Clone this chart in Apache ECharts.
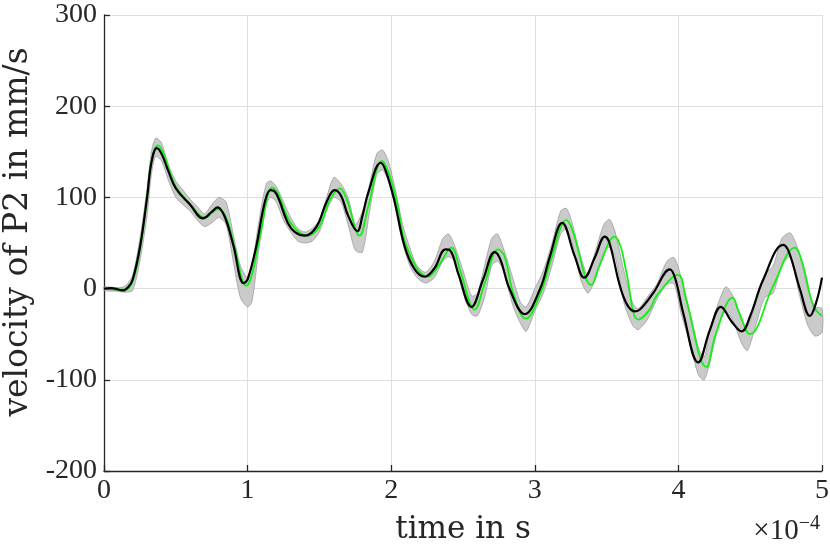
<!DOCTYPE html>
<html>
<head>
<meta charset="utf-8">
<script src="https://cdn.jsdelivr.net/npm/echarts@6/dist/echarts.min.js"></script>
<style>
  html, body { margin: 0; padding: 0; background: #fff; }
  #chart { width: 830px; height: 554px; }
</style>
</head>
<body>
<div id="chart"></div>
<script>
// time in units of 1e-4 s, velocity in mm/s
const xTicks = [0, 1, 2, 3, 4, 5];
const yTicks = [-200, -100, 0, 100, 200, 300];

// model curve (black)
const blackX = [0, 0.05, 0.1, 0.13, 0.17, 0.2, 0.25, 0.3, 0.33, 0.368, 0.4, 0.45, 0.5, 0.6, 0.69, 0.75, 0.79, 0.84, 0.9, 0.972, 1.0, 1.06, 1.12, 1.16, 1.2, 1.28, 1.33, 1.4, 1.48, 1.55, 1.606, 1.65, 1.7, 1.764, 1.8, 1.84, 1.927, 1.96, 2.02, 2.094, 2.164, 2.233, 2.3, 2.378, 2.41, 2.47, 2.559, 2.64, 2.721, 2.76, 2.826, 2.93, 3.035, 3.105, 3.19, 3.279, 3.344, 3.42, 3.488, 3.52, 3.615, 3.697, 3.732, 3.824, 3.941, 3.98, 4.034, 4.138, 4.22, 4.296, 4.37, 4.44, 4.5, 4.591, 4.73, 4.77, 4.847, 4.916, 4.96, 5.0];
const blackY = [0, 0.5, -1, -2, 2, 10, 45, 100, 138, 154, 148, 128, 110, 92, 77, 84, 89, 79, 48, 6, 10, 46, 95, 108, 104, 72, 62, 58, 68, 95, 108, 102, 80, 63, 80, 105, 138, 130, 98, 46, 21, 13, 22, 43, 42, 15, -20, 10, 40, 32, -1, -28, -1, 35, 72, 35, 12, 35, 57, 50, -8, -25, -23, -5, 21, 10, -27, -81, -45, -20, -36, -47, -30, 10, 48, 40, -1, -30, -15, 12];

// measured mean (green)
const greenX = [0, 0.1, 0.15, 0.2, 0.25, 0.3, 0.33, 0.375, 0.41, 0.5, 0.6, 0.7, 0.793, 0.85, 0.91, 0.991, 1.03, 1.09, 1.172, 1.21, 1.3, 1.42, 1.5, 1.57, 1.641, 1.69, 1.78, 1.84, 1.936, 1.98, 2.04, 2.11, 2.256, 2.33, 2.42, 2.48, 2.582, 2.65, 2.744, 2.79, 2.85, 2.937, 3.04, 3.12, 3.22, 3.26, 3.395, 3.45, 3.557, 3.6, 3.639, 3.72, 3.8, 3.848, 3.999, 4.05, 4.196, 4.26, 4.378, 4.42, 4.498, 4.66, 4.812, 4.86, 4.94, 5.0];
const greenY = [0, -1, -1, 8, 42, 100, 140, 157, 150, 112, 93, 78, 87, 78, 45, 3, 15, 60, 111, 105, 72, 58, 68, 96, 110, 98, 58, 90, 140, 128, 95, 45, 13, 25, 45, 20, -23, 5, 43, 35, -5, -33, -5, 35, 75, 65, 4, 25, 57, 45, 17, -34, -23, -8, 15, -10, -86, -50, -10, -25, -50, 3, 45, 30, -19, -30];

// measured min / max (gray band)
const bandX = [0, 0.1, 0.15, 0.2, 0.25, 0.3, 0.33, 0.36, 0.4, 0.45, 0.5, 0.55, 0.6, 0.65, 0.7, 0.75, 0.8, 0.85, 0.9, 0.95, 1.0, 1.03, 1.08, 1.13, 1.16, 1.2, 1.25, 1.3, 1.35, 1.4, 1.45, 1.5, 1.55, 1.6, 1.65, 1.7, 1.75, 1.8, 1.85, 1.9, 1.94, 1.98, 2.03, 2.08, 2.13, 2.18, 2.24, 2.3, 2.36, 2.4, 2.44, 2.5, 2.56, 2.6, 2.65, 2.7, 2.74, 2.78, 2.85, 2.9, 2.94, 3.0, 3.06, 3.12, 3.18, 3.22, 3.26, 3.32, 3.37, 3.42, 3.48, 3.52, 3.56, 3.62, 3.68, 3.72, 3.78, 3.85, 3.92, 3.97, 4.02, 4.08, 4.14, 4.18, 4.22, 4.28, 4.33, 4.38, 4.44, 4.48, 4.54, 4.6, 4.66, 4.72, 4.78, 4.84, 4.9, 4.95, 5.0];
const bandLow = [-2, -3, -4, -2, 30, 80, 125, 145, 140, 118, 100, 92, 85, 75, 68, 72, 78, 70, 30, -10, -20, -15, 45, 92, 100, 95, 75, 62, 52, 50, 52, 62, 85, 100, 95, 70, 42, 40, 85, 125, 130, 118, 88, 50, 25, 12, 6, 12, 30, 35, 30, -5, -28, -30, -10, 25, 30, 20, -20, -38, -47, -25, -5, 25, 60, 65, 50, 10, -5, 10, 40, 45, 35, -15, -40, -45, -35, -12, 5, 5, -28, -60, -95, -100, -80, -40, -25, -35, -60, -68, -40, -10, -5, 25, 35, -5, -40, -52, -48];
const bandHigh = [2, 1, 3, 15, 55, 110, 150, 165, 160, 135, 118, 108, 98, 90, 82, 92, 100, 95, 60, 25, 12, 25, 75, 115, 118, 112, 95, 78, 66, 62, 66, 75, 100, 122, 115, 100, 70, 85, 115, 148, 152, 140, 108, 70, 45, 25, 18, 30, 55, 60, 48, 20, -8, -5, 25, 55, 60, 45, 10, -15, -20, 0, 20, 50, 85, 88, 72, 35, 15, 40, 70, 76, 62, 20, -15, -22, -10, 5, 30, 34, 12, -25, -65, -75, -45, -15, 2, -8, -35, -42, -15, 15, 25, 55, 61, 40, 0, -20, -22];

const pairs = (xs, ys) => xs.map((x, i) => [x, ys[i]]);
const tickFont = "Liberation Serif";
const nameFont = "DejaVu Serif";
const ink = "#262626";

let myChart = echarts.init(document.getElementById("chart"));
let option = {
  animation: false,
  grid: {
    left: 104,
    right: 8,
    top: 15,
    bottom: 83,
    containLabel: false,
    outerBoundsMode: "none",
  },
  xAxis: {
    type: "value",
    min: xTicks[0],
    max: xTicks[xTicks.length - 1],
    interval: 1,
    name: "time in s",
    nameLocation: "middle",
    nameGap: 43,
    nameTextStyle: { fontFamily: nameFont, fontSize: 31, color: ink },
    axisLine: { show: true, onZero: false, lineStyle: { color: ink, width: 1.3 } },
    axisTick: { show: true, inside: true, length: 6, lineStyle: { color: ink, width: 1.3 } },
    axisLabel: { fontFamily: tickFont, fontSize: 28, color: ink, margin: 6 },
    splitLine: { show: true, lineStyle: { color: "#dfdfdf", width: 1 } },
  },
  yAxis: {
    type: "value",
    min: yTicks[0],
    max: yTicks[yTicks.length - 1],
    interval: 100,
    name: "velocity of P2 in mm/s",
    nameLocation: "middle",
    nameGap: 52,
    nameTextStyle: { fontFamily: nameFont, fontSize: 33, color: ink, padding: [0, 0, 0, 22] },
    axisLine: { show: true, onZero: false, lineStyle: { color: ink, width: 1.3 } },
    axisTick: { show: true, inside: true, length: 6, lineStyle: { color: ink, width: 1.3 } },
    axisLabel: { fontFamily: tickFont, fontSize: 28, color: ink, margin: 7 },
    splitLine: { show: true, lineStyle: { color: "#dfdfdf", width: 1 } },
  },
  graphic: [
    {
      type: "text",
      right: 10,
      top: 514,
      style: {
        text: "×10{sup|−4}",
        fontFamily: tickFont,
        fontSize: 29,
        fill: ink,
        rich: {
          sup: { fontFamily: tickFont, fontSize: 20, verticalAlign: "top", padding: [0, 0, 14, 0] },
        },
      },
    },
  ],
  series: [
    {
      type: "custom",
      name: "band",
      silent: true,
      z: 1,
      data: [0],
      renderItem: (params, api) => {
        let pts = [];
        bandX.forEach((x, i) => pts.push(api.coord([x, bandHigh[i]])));
        for (let i = bandX.length - 1; i >= 0; i--) {
          pts.push(api.coord([bandX[i], bandLow[i]]));
        }
        return {
          type: "polygon",
          shape: { points: pts, smooth: 0.25 },
          style: { fill: "#cacaca", stroke: "#8a8a8a", lineWidth: 0.6 },
        };
      },
    },
    {
      type: "line",
      name: "measured",
      data: pairs(greenX, greenY),
      smooth: 0.4,
      showSymbol: false,
      z: 3,
      lineStyle: { color: "#14f014", width: 1.8 },
    },
    {
      type: "line",
      name: "model",
      data: pairs(blackX, blackY),
      smooth: 0.4,
      showSymbol: false,
      z: 4,
      lineStyle: { color: "#000000", width: 2.2 },
    },
  ],
};
myChart.setOption(option);
window.addEventListener("resize", () => {
  myChart.resize();
});
</script>
</body>
</html>
